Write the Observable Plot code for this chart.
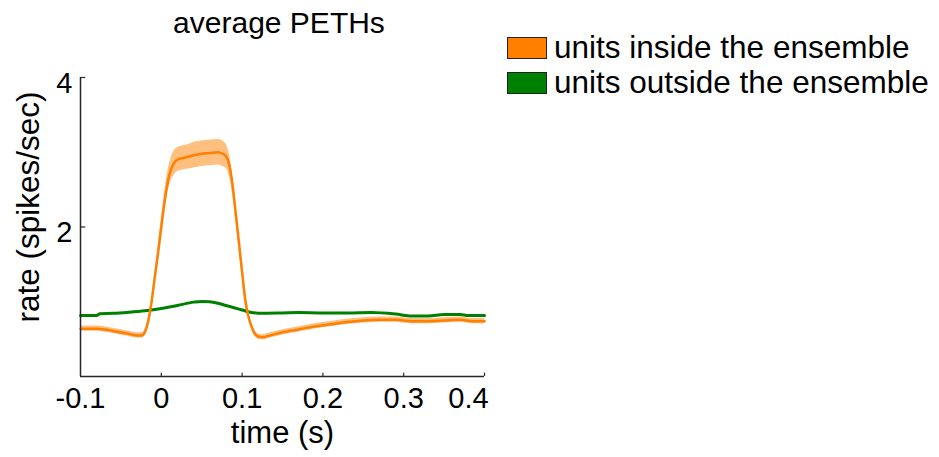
<!DOCTYPE html>
<html>
<head>
<meta charset="utf-8">
<script src="https://cdn.jsdelivr.net/npm/d3@7"></script>
<script src="https://cdn.jsdelivr.net/npm/@observablehq/plot@0.6"></script>
<style>
  html, body { margin: 0; padding: 0; background: #fff; }
  #wrap { position: relative; width: 939px; height: 457px; font-family: "Liberation Sans", Arial, sans-serif; color: #000; }
  #chart { position: absolute; left: 0; top: 0; }
  .title { position: absolute; left: 0; top: 8px; width: 558px; text-align: center; font-size: 30px; line-height: 30px; }
  .leg { position: absolute; left: 507px; height: 31px; display: flex; align-items: center; font-size: 31.5px; line-height: 31px; white-space: nowrap; }
  .sw { width: 38px; height: 20px; border: 1.5px solid #222; margin-right: 7px; }
</style>
</head>
<body>
<div id="wrap">
  <div id="chart"></div>
  <div class="title">average PETHs</div>
  <div id="legend"></div>
</div>
<script>
// ---- data ----
const insideTime = [-0.100,-0.080,-0.070,-0.060,-0.050,-0.040,-0.030,-0.024,-0.020,-0.016,-0.012,-0.008,-0.004,0.000,0.004,0.008,0.012,0.016,0.022,0.030,0.040,0.050,0.060,0.070,0.076,0.080,0.084,0.088,0.092,0.096,0.100,0.104,0.108,0.112,0.116,0.120,0.125,0.135,0.150,0.170,0.190,0.210,0.230,0.250,0.270,0.290,0.310,0.330,0.350,0.370,0.385,0.400];
const insideRate = [0.64,0.64,0.63,0.61,0.59,0.57,0.55,0.55,0.60,0.75,1.00,1.33,1.65,2.00,2.33,2.60,2.77,2.86,2.91,2.93,2.96,2.98,2.99,3.00,2.98,2.95,2.84,2.58,2.20,1.80,1.40,1.02,0.80,0.66,0.57,0.535,0.525,0.55,0.59,0.63,0.67,0.70,0.73,0.75,0.76,0.76,0.74,0.74,0.75,0.76,0.74,0.74];
const insideSem = [0.035,0.035,0.035,0.035,0.035,0.035,0.035,0.035,0.035,0.04,0.05,0.07,0.09,0.11,0.13,0.14,0.15,0.16,0.16,0.16,0.17,0.17,0.17,0.17,0.17,0.16,0.15,0.13,0.11,0.09,0.07,0.05,0.04,0.04,0.035,0.035,0.035,0.035,0.035,0.035,0.035,0.035,0.035,0.035,0.035,0.035,0.035,0.035,0.035,0.035,0.035,0.035];
const outsideTime = [-0.100,-0.080,-0.076,-0.060,-0.040,-0.020,0.000,0.020,0.040,0.050,0.060,0.070,0.080,0.090,0.100,0.110,0.125,0.150,0.170,0.200,0.230,0.260,0.290,0.310,0.330,0.350,0.370,0.380,0.400];
const outsideRate = [0.815,0.815,0.84,0.845,0.86,0.88,0.91,0.95,0.995,1.005,1.00,0.98,0.95,0.92,0.89,0.86,0.845,0.85,0.855,0.85,0.85,0.855,0.835,0.81,0.81,0.83,0.83,0.815,0.815];
const xTicks = [-0.1, 0, 0.1, 0.2, 0.3, 0.4];
const yTicks = [2, 4];
const seriesNames = ["units inside the ensemble", "units outside the ensemble"];
const seriesColors = ["#ff7f00", "#008000"];

const inside = insideTime.map((t, i) => ({t, m: insideRate[i], s: insideSem[i]}));
const outside = outsideTime.map((t, i) => ({t, v: outsideRate[i]}));
const axisColor = "#262626";

const chart = Plot.plot({
  width: 939, height: 457,
  marginLeft: 80, marginRight: 455, marginTop: 77, marginBottom: 81,
  x: {domain: [-0.1, 0.4]},
  y: {domain: [0, 4]},
  style: {fontFamily: "'Liberation Sans', Arial, sans-serif", fontSize: "29px", color: "#000", background: "transparent", overflow: "visible"},
  marks: [
    Plot.areaY(inside, {x: "t", y1: d => d.m - d.s, y2: d => d.m + d.s, fill: seriesColors[0], fillOpacity: 0.5, curve: "monotone-x"}),
    Plot.lineY(outside, {x: "t", y: "v", stroke: seriesColors[1], strokeWidth: 3, curve: "monotone-x"}),
    Plot.lineY(inside, {x: "t", y: "m", stroke: seriesColors[0], strokeWidth: 2.5, curve: "monotone-x"}),
    Plot.ruleY([0], {stroke: axisColor, strokeWidth: 1.5}),
    Plot.ruleX([-0.1], {stroke: axisColor, strokeWidth: 1.5}),
    Plot.ruleX(xTicks.slice(1), {x: d => d, y1: 0, y2: 0.045, stroke: axisColor, strokeWidth: 1.2}),
    Plot.ruleY(yTicks, {y: d => d, x1: -0.1, x2: -0.0935, stroke: axisColor, strokeWidth: 1.2}),
    Plot.axisX(xTicks.filter(d => d !== 0.4), {tickSize: 0, tickPadding: 11, tickFormat: d => String(d), label: null, fontSize: 29}),
    Plot.axisX([0.4], {tickSize: 0, tickPadding: 11, dx: -16, tickFormat: d => String(d), label: null, fontSize: 29}),
    Plot.axisY(yTicks, {tickSize: 0, tickPadding: 8, dy: 6, tickFormat: d => String(d), label: null, fontSize: 29}),
    Plot.text(["time (s)"], {text: d => d, frameAnchor: "bottom", lineAnchor: "bottom", dy: 66, fontSize: 31}),
    Plot.text(["rate (spikes/sec)"], {text: d => d, frameAnchor: "left", textAnchor: "middle", lineAnchor: "middle", rotate: -90, dx: -52, dy: -20, fontSize: 31.5})
  ]
});
document.getElementById("chart").appendChild(chart);

const legend = document.getElementById("legend");
const legendTops = [32, 67];
seriesNames.forEach((name, i) => {
  const row = document.createElement("div");
  row.className = "leg";
  row.style.top = legendTops[i] + "px";
  const sw = document.createElement("div");
  sw.className = "sw";
  sw.style.background = seriesColors[i];
  const label = document.createElement("span");
  label.textContent = name;
  row.appendChild(sw);
  row.appendChild(label);
  legend.appendChild(row);
});
</script>
</body>
</html>
